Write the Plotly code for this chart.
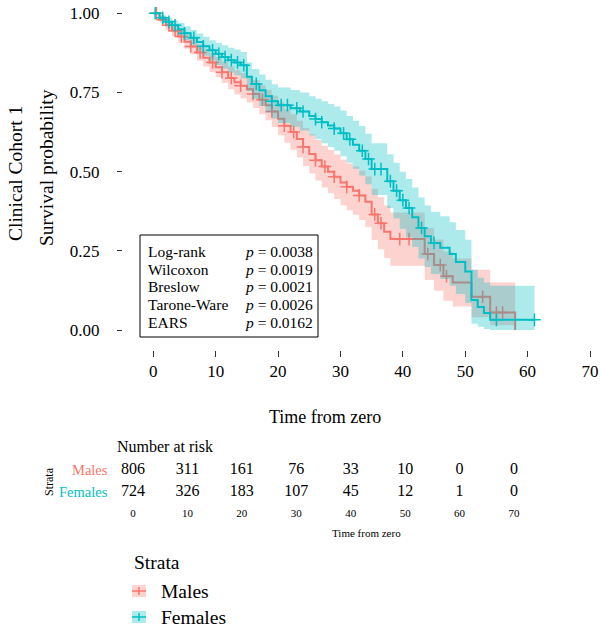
import plotly.graph_objects as go

W, H = 600, 631
RED = "#F8766D"
TEAL = "#00BFC4"
RED_FILL = "rgba(248,118,109,0.32)"
TEAL_FILL = "rgba(0,191,196,0.32)"
FONT = "Liberation Serif"

# ---------------- data ----------------
male_t = [0, 1, 2, 3, 4, 5, 6, 7, 8, 9, 10, 11, 12, 13, 14, 15, 16, 17, 18, 19, 20,
          21, 22, 23, 24, 25, 26, 27, 28, 29, 30, 31, 32, 33, 34, 35, 36, 37, 38,
          43.5, 45, 46.5, 48, 51, 54, 58]
male_s = [1.0, 0.98, 0.962, 0.945, 0.927, 0.91, 0.895, 0.876, 0.86, 0.845, 0.83,
          0.814, 0.796, 0.782, 0.771, 0.76, 0.745, 0.727, 0.71, 0.69, 0.667,
          0.645, 0.625, 0.603, 0.578, 0.556, 0.536, 0.516, 0.5, 0.484, 0.466,
          0.452, 0.44, 0.425, 0.405, 0.365, 0.337, 0.31, 0.287,
          0.24, 0.205, 0.17, 0.15, 0.105, 0.055, 0.0]
male_lo = [1.0, 0.97, 0.948, 0.928, 0.907, 0.888, 0.871, 0.85, 0.832, 0.815, 0.798,
           0.78, 0.76, 0.744, 0.731, 0.718, 0.701, 0.681, 0.662, 0.64, 0.615,
           0.591, 0.569, 0.545, 0.518, 0.494, 0.472, 0.45, 0.432, 0.414, 0.394,
           0.378, 0.364, 0.347, 0.325, 0.284, 0.255, 0.227, 0.203,
           0.158, 0.124, 0.092, 0.074, 0.04, 0.015, 0.015]
male_hi = [1.0, 0.99, 0.976, 0.962, 0.947, 0.932, 0.919, 0.902, 0.888, 0.875, 0.862,
           0.848, 0.832, 0.82, 0.811, 0.802, 0.789, 0.773, 0.758, 0.74, 0.719,
           0.699, 0.681, 0.661, 0.638, 0.618, 0.6, 0.582, 0.568, 0.554, 0.538,
           0.526, 0.516, 0.503, 0.485, 0.446, 0.419, 0.393, 0.371,
           0.322, 0.286, 0.248, 0.226, 0.19, 0.15, 0.15]
male_cens = [0.5, 1.5, 2.5, 3.5, 4.5, 6, 7.5, 9.5, 11, 12.5, 14, 16, 17.5, 19, 21,
             22.5, 24, 26, 27.5, 29, 31, 33, 35.5, 36.5, 39.5, 41, 44, 46, 47,
             52.8, 55, 56]

female_t = [0, 1, 2, 3, 4, 5, 6, 7, 8, 9, 10, 11, 12, 13, 14, 15, 15.8, 17, 18, 19,
            20, 22, 23.5, 25, 26, 27, 28, 29, 30, 31, 32, 33, 34, 35, 37.5, 38.5,
            39.5, 40.5, 41.5, 42.5, 43.5, 44.5, 46, 47.5, 48.5, 50, 51, 52, 53, 54,
            61.1]
female_s = [1.0, 0.986, 0.973, 0.962, 0.95, 0.937, 0.923, 0.909, 0.896, 0.883,
            0.872, 0.862, 0.852, 0.845, 0.836, 0.8, 0.777, 0.757, 0.738, 0.722,
            0.71, 0.7, 0.69, 0.676, 0.666, 0.656, 0.646, 0.636, 0.621, 0.602,
            0.585, 0.566, 0.54, 0.508, 0.47, 0.44, 0.41, 0.385, 0.356, 0.322,
            0.296, 0.275, 0.26, 0.24, 0.215, 0.185, 0.095, 0.073, 0.054, 0.032,
            0.032]
female_lo = [1.0, 0.977, 0.96, 0.946, 0.931, 0.915, 0.899, 0.882, 0.866, 0.851,
             0.837, 0.825, 0.813, 0.804, 0.794, 0.755, 0.73, 0.707, 0.686, 0.668,
             0.654, 0.642, 0.63, 0.614, 0.602, 0.59, 0.578, 0.566, 0.549, 0.528,
             0.509, 0.488, 0.46, 0.426, 0.385, 0.352, 0.32, 0.293, 0.262, 0.226,
             0.199, 0.177, 0.161, 0.14, 0.114, 0.085, 0.02, 0.01, 0.003, 0.0,
             0.0]
female_hi = [1.0, 0.995, 0.986, 0.978, 0.969, 0.959, 0.947, 0.936, 0.926, 0.915,
             0.907, 0.899, 0.891, 0.886, 0.878, 0.845, 0.824, 0.807, 0.79, 0.776,
             0.766, 0.758, 0.75, 0.738, 0.73, 0.722, 0.714, 0.706, 0.693, 0.676,
             0.661, 0.644, 0.62, 0.59, 0.555, 0.528, 0.5, 0.477, 0.45, 0.418,
             0.393, 0.373, 0.359, 0.34, 0.316, 0.285, 0.19, 0.165, 0.15, 0.14,
             0.14]
female_cens = [0.3, 1.5, 2.5, 3.5, 5, 6.5, 8, 9.5, 10.5, 11.5, 12.5, 13.5, 14.5,
               16.5, 19, 20.5, 21.5, 23, 24, 26, 27, 29, 30.5, 31.5, 33.5, 34.5,
               35.5, 36.5, 38, 39, 40, 41, 43, 45, 55, 61.1]

x_ticks = [0, 10, 20, 30, 40, 50, 60, 70]
y_ticks = [0, 0.25, 0.5, 0.75, 1.0]
y_ticklabels = ["0.00", "0.25", "0.50", "0.75", "1.00"]

risk_times = [0, 10, 20, 30, 40, 50, 60, 70]
risk_males = [806, 311, 161, 76, 33, 10, 0, 0]
risk_females = [724, 326, 183, 107, 45, 12, 1, 0]

tests = ["Log-rank", "Wilcoxon", "Breslow", "Tarone-Ware", "EARS"]
p_values = ["0.0038", "0.0019", "0.0021", "0.0026", "0.0162"]


def surv_at(ts, ss, t):
    idx = max(i for i, tt in enumerate(ts) if tt <= t)
    return ss[idx]


def px(x):
    return x / W


def py(y):
    return 1 - y / H


fig = go.Figure()


def add_group(t, s, lo, hi, cens, color, fillc):
    fig.add_trace(go.Scatter(x=t, y=hi, mode="lines",
                             line=dict(width=0, shape="hv", color=fillc),
                             showlegend=False, hoverinfo="skip"))
    fig.add_trace(go.Scatter(x=t, y=lo, mode="lines",
                             line=dict(width=0, shape="hv", color=fillc),
                             fill="tonexty", fillcolor=fillc,
                             showlegend=False, hoverinfo="skip"))
    fig.add_trace(go.Scatter(x=t, y=s, mode="lines",
                             line=dict(color=color, width=2, shape="hv"),
                             showlegend=False))
    cy = [surv_at(t, s, c) for c in cens]
    fig.add_trace(go.Scatter(x=cens, y=cy, mode="markers",
                             marker=dict(symbol="cross-thin", size=9,
                                         line=dict(color=color, width=1.5)),
                             showlegend=False))


add_group(male_t, male_s, male_lo, male_hi, male_cens, RED, RED_FILL)
add_group(female_t, female_s, female_lo, female_hi, female_cens, TEAL, TEAL_FILL)

# risk table numbers
fig.add_trace(go.Scatter(x=risk_times, y=[2] * len(risk_times), mode="text",
                         text=[str(v) for v in risk_males],
                         textfont=dict(family=FONT, size=16, color="black"),
                         xaxis="x2", yaxis="y2", showlegend=False))
fig.add_trace(go.Scatter(x=risk_times, y=[1] * len(risk_times), mode="text",
                         text=[str(v) for v in risk_females],
                         textfont=dict(family=FONT, size=16, color="black"),
                         xaxis="x2", yaxis="y2", showlegend=False))

x0p, x70p = 153.3, 590.0
ppu = (x70p - x0p) / 70
left_px = 123
xr = [-(x0p - left_px) / ppu, (W - x0p) / ppu]

y0p, y1p = 330.0, 13.3
ppy = (y0p - y1p)
bottom_px = 350
yr = [-(bottom_px - y0p) / ppy, y0p / ppy]

r0p, r70p = 133.0, 514.0
rpu = (r70p - r0p) / 70
xr2 = [-r0p / rpu, (W - r0p) / rpu]

top2, bot2 = 440, 505
rowpx = 22
yr2 = [1 - (bot2 - 492) / rowpx, 2 + (470 - top2) / rowpx]

fig.update_layout(
    width=W, height=H,
    margin=dict(l=0, r=0, t=0, b=0),
    paper_bgcolor="white", plot_bgcolor="rgba(0,0,0,0)",
    font=dict(family=FONT, color="black"),
    xaxis=dict(domain=[left_px / W, 1], range=xr, tickvals=x_ticks,
               ticks="outside", ticklen=6, tickwidth=1, tickcolor="#333",
               showgrid=False, zeroline=False, showline=False,
               tickfont=dict(family=FONT, size=17, color="black"),
               anchor="y"),
    yaxis=dict(domain=[(H - bottom_px) / H, 1], range=yr, tickvals=y_ticks,
               ticktext=y_ticklabels, ticks="outside", ticklen=5, tickwidth=1,
               tickcolor="#333", showgrid=False, zeroline=False, showline=False,
               tickfont=dict(family=FONT, size=17, color="black"),
               ticklabelstandoff=14, anchor="x"),
    xaxis2=dict(domain=[0, 1], range=xr2, tickvals=risk_times, ticks="",
                showgrid=False, zeroline=False, showline=False,
                tickfont=dict(family=FONT, size=11, color="black"),
                anchor="y2"),
    yaxis2=dict(domain=[(H - bot2) / H, (H - top2) / H], range=yr2,
                visible=False, anchor="x2"),
)

ann = []


def text(x, y, s, size, xanchor="center", color="black", angle=0):
    ann.append(dict(x=px(x), y=py(y), xref="paper", yref="paper", text=s,
                    showarrow=False, xanchor=xanchor, yanchor="middle",
                    textangle=angle,
                    font=dict(family=FONT, size=size, color=color)))


text(16, 174, "Clinical Cohort 1", 19.5, angle=-90)
text(46, 168, "Survival probability", 19.5, angle=-90)
text(325, 417, "Time from zero", 18)
text(115, 446, "Number at risk", 16, xanchor="left")
text(49, 482, "Strata", 12, angle=-90)
text(110, 470, "Males", 14.5, xanchor="right", color=RED)
text(110, 492, "Females", 14.5, xanchor="right", color=TEAL)
text(366, 533, "Time from zero", 11)

# p-value box
line_y = [252, 269.5, 287, 304.5, 322]
for name, pv, yy in zip(tests, p_values, line_y):
    text(146, yy, name, 15.5, xanchor="left")
    text(243, yy, "<i>p</i> = " + pv, 15.5, xanchor="left")

shapes = [dict(type="rect", xref="paper", yref="paper",
               x0=px(140), x1=px(318), y0=py(235), y1=py(337),
               line=dict(color="black", width=1), fillcolor="rgba(0,0,0,0)")]

# legend
text(132, 562, "Strata", 19.5, xanchor="left")
for label, color, fillc, yy in [("Males", RED, RED_FILL, 591),
                                ("Females", TEAL, TEAL_FILL, 617)]:
    shapes.append(dict(type="rect", xref="paper", yref="paper",
                       x0=px(132), x1=px(146), y0=py(yy - 6), y1=py(yy + 6),
                       line=dict(width=0), fillcolor=fillc))
    shapes.append(dict(type="line", xref="paper", yref="paper",
                       x0=px(132), x1=px(146), y0=py(yy), y1=py(yy),
                       line=dict(color=color, width=1.5)))
    shapes.append(dict(type="line", xref="paper", yref="paper",
                       x0=px(139), x1=px(139), y0=py(yy - 4), y1=py(yy + 4),
                       line=dict(color=color, width=1.5)))
    text(159, yy, label, 19.5, xanchor="left")

fig.update_layout(annotations=ann, shapes=shapes)

fig.write_html("out.html")
